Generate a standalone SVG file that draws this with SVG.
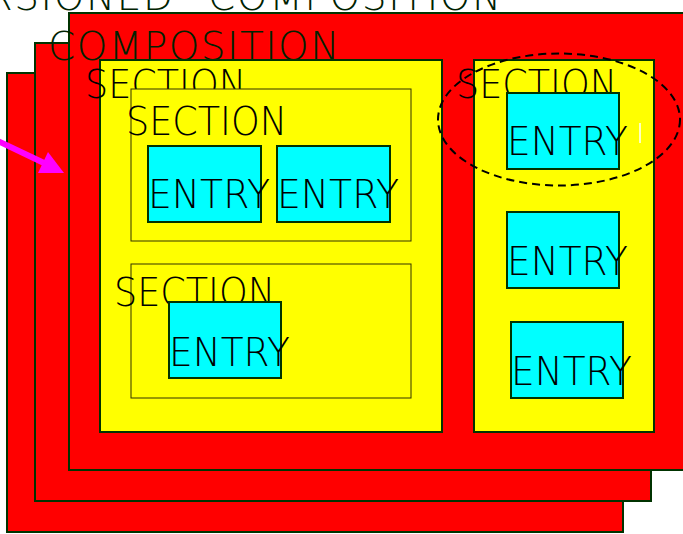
<svg xmlns="http://www.w3.org/2000/svg" width="683" height="534" viewBox="0 0 683 534">
<style>
.comp{fill:#ff0000;stroke:#003300;stroke-width:2}
.sec{fill:#ffff00;stroke:#003300;stroke-width:2}
.sub{fill:#ffff00;stroke:#333300;stroke-width:1}
.ent{fill:#00ffff;stroke:#003300;stroke-width:2}
text{font-family:"DejaVu Sans",sans-serif;font-weight:200;font-size:39px;fill:#000}
.tt{fill:#002200;letter-spacing:1.6px}
</style>
<rect width="683" height="534" fill="#ffffff"/>
<g id="comp-back2"><rect class="comp" x="7" y="73" width="616" height="459"/></g>
<g id="comp-back1"><rect class="comp" x="35" y="43" width="616" height="458"/></g>
<g id="comp-front"><rect class="comp" x="69" y="13" width="620" height="457"/></g>
<g id="title"><text class="tt" y="10"><tspan x="-69">VERSIONED</tspan> <tspan x="208">COMPOSITION</tspan></text></g>
<g id="composition-label"><text class="tt" x="48" y="60" textLength="293" lengthAdjust="spacing">COMPOSITION</text></g>
<g id="section-left">
<rect class="sec" x="100" y="60" width="342" height="372"/>
<text x="85" y="98" textLength="161" lengthAdjust="spacingAndGlyphs">SECTION</text>
</g>
<g id="section-top">
<rect class="sub" x="131" y="89" width="280" height="152"/>
<text x="126" y="135" textLength="161" lengthAdjust="spacingAndGlyphs">SECTION</text>
</g>
<g id="entry-1">
<rect class="ent" x="148" y="146" width="113" height="76"/>
<text x="148" y="208" textLength="122" lengthAdjust="spacingAndGlyphs">ENTRY</text>
</g>
<g id="entry-2">
<rect class="ent" x="277" y="146" width="113" height="76"/>
<text x="277" y="208" textLength="122" lengthAdjust="spacingAndGlyphs">ENTRY</text>
</g>
<g id="section-bottom">
<rect class="sub" x="131" y="264" width="280" height="134"/>
<text x="114" y="306" textLength="161" lengthAdjust="spacingAndGlyphs">SECTION</text>
</g>
<g id="entry-3">
<rect class="ent" x="169" y="302" width="112" height="76"/>
<text x="169" y="366" textLength="121" lengthAdjust="spacingAndGlyphs">ENTRY</text>
</g>
<g id="section-right">
<rect class="sec" x="474" y="60" width="180" height="372"/>
<text x="456" y="98" textLength="161" lengthAdjust="spacingAndGlyphs">SECTION</text>
</g>
<g id="entry-r1">
<rect class="ent" x="507" y="93" width="112" height="76"/>
<text x="507" y="155" textLength="121" lengthAdjust="spacingAndGlyphs">ENTRY</text>
</g>
<g id="entry-r2">
<rect class="ent" x="507" y="212" width="112" height="76"/>
<text x="507" y="275" textLength="121" lengthAdjust="spacingAndGlyphs">ENTRY</text>
</g>
<g id="entry-r3">
<rect class="ent" x="511" y="322" width="112" height="76"/>
<text x="511" y="385" textLength="121" lengthAdjust="spacingAndGlyphs">ENTRY</text>
</g>
<g id="highlight">
<ellipse cx="559" cy="119.5" rx="121" ry="66" fill="none" stroke="#000" stroke-width="2" stroke-dasharray="8,5"/>
<line x1="640" y1="123" x2="640" y2="143" stroke="#ffffff" stroke-width="1.5"/>
</g>
<g id="connectors">
<line x1="-2" y1="141" x2="44" y2="163" stroke="#ff00ff" stroke-width="6"/>
<polygon points="64,173 38,173 48,152" fill="#ff00ff"/>
</g>
</svg>
